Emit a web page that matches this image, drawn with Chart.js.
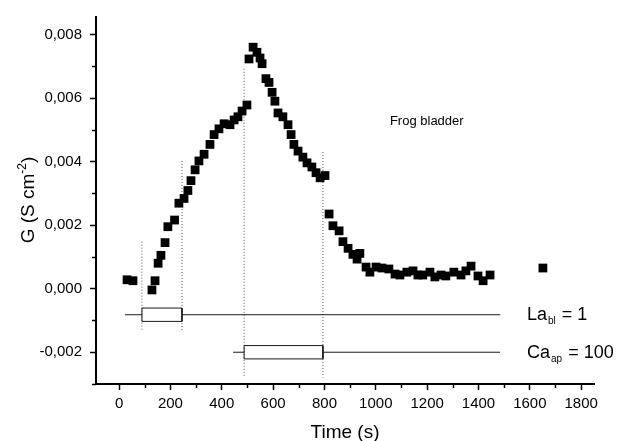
<!DOCTYPE html>
<html>
<head>
<meta charset="utf-8">
<script src="https://cdn.jsdelivr.net/npm/chart.js@4.4.1/dist/chart.umd.min.js"></script>
<style>
  html, body { margin: 0; padding: 0; background: #fff; }
  canvas { display: block; }
</style>
</head>
<body>
<canvas id="myChart" width="617" height="441"></canvas>
<script>
// Conductance data (time in s, G in S cm-2)
const timeS = [31, 54, 128, 140, 152, 163, 179, 190, 216, 233, 253, 268, 280, 296, 311, 331, 354, 370, 389, 409,
    432, 448, 463, 479, 498, 506, 522, 537, 549, 557, 572, 584, 596, 607, 619, 638, 658, 670, 681, 697,
    716, 732, 751, 767, 783, 802, 818, 833, 857, 872, 892, 911, 927, 938, 962, 977, 1001, 1024, 1051, 1075,
    1094, 1121, 1145, 1164, 1183, 1211, 1230, 1254, 1273, 1304, 1332, 1351, 1371, 1398, 1418, 1445, 1651];
const gValues = [0.00028, 0.00025, -0.00004, 0.00025, 0.00080, 0.00105, 0.00145, 0.00195, 0.00216, 0.00269,
    0.00284, 0.00309, 0.00340, 0.00374, 0.00402, 0.00423, 0.00454, 0.00485, 0.00503, 0.00519,
    0.00516, 0.00531, 0.00541, 0.00559, 0.00578, 0.00723, 0.00760, 0.00744, 0.00726, 0.00708,
    0.00661, 0.00649, 0.00618, 0.00590, 0.00553, 0.00541, 0.00516, 0.00485, 0.00454, 0.00433,
    0.00414, 0.00396, 0.00383, 0.00365, 0.00349, 0.00356, 0.00235, 0.00198, 0.00182, 0.00148,
    0.00127, 0.00108, 0.00093, 0.00111, 0.00068, 0.00052, 0.00068, 0.00065, 0.00062, 0.00046,
    0.00043, 0.00052, 0.00056, 0.00043, 0.00043, 0.00052, 0.00037, 0.00043, 0.00040, 0.00052,
    0.00043, 0.00056, 0.00071, 0.00040, 0.00025, 0.00043, 0.00065];

// Tick values
const xTicks = [0, 200, 400, 600, 800, 1000, 1200, 1400, 1600, 1800];
const xMinorTicks = [100, 300, 500, 700, 900, 1100, 1300, 1500, 1700];
const yTicks = [-0.002, 0, 0.002, 0.004, 0.006, 0.008];
const yMinorTicks = [-0.003, -0.001, 0.001, 0.003, 0.005, 0.007];

// Perfusion bars: line start, box start, box end, line end
const laTimes = [23, 89, 245, 1485];
const caTimes = [444, 487, 794, 1484];
const laLevel = -0.00082;
const caLevel = -0.002;
const boxHalf = 0.00021;

// Dotted markers
const markerTimes = [89, 245, 487, 794];
const markerTops = [0.00148, 0.00402, 0.00692, 0.0043];
const markerBottoms = [-0.00133, -0.00133, -0.0028, -0.0028];

const FONT = "'Liberation Sans', Arial, sans-serif";

function segment(t0, t1, y) {
    return [{ x: t0, y: y }, { x: t1, y: y }];
}
function box(t0, t1, y) {
    return [
        { x: t0, y: y + boxHalf }, { x: t1, y: y + boxHalf },
        { x: t1, y: y - boxHalf }, { x: t0, y: y - boxHalf },
        { x: t0, y: y + boxHalf }
    ];
}
function lineSet(data, extra) {
    return Object.assign({
        type: "line",
        data: data,
        showLine: true,
        pointRadius: 0,
        borderColor: "#1a1a1a",
        borderWidth: 1,
        fill: false,
        tension: 0,
        order: 2
    }, extra || {});
}

const datasets = [
    {
        type: "scatter",
        data: timeS.map((t, i) => ({ x: t, y: gValues[i] })),
        pointStyle: "rect",
        pointRadius: 6.2,
        backgroundColor: "#000",
        borderWidth: 0,
        order: 0
    },
    lineSet(segment(laTimes[0], laTimes[1], laLevel)),
    lineSet(segment(laTimes[2], laTimes[3], laLevel)),
    lineSet(box(laTimes[1], laTimes[2], laLevel)),
    lineSet(segment(caTimes[0], caTimes[1], caLevel)),
    lineSet(segment(caTimes[2], caTimes[3], caLevel)),
    lineSet(box(caTimes[1], caTimes[2], caLevel))
];
markerTimes.forEach((t, i) => {
    datasets.push(lineSet([{ x: t, y: markerTops[i] }, { x: t, y: markerBottoms[i] }],
        { borderColor: "#555", borderDash: [1, 2] }));
});

const fmt = (v) => {
    const s = Math.abs(v).toFixed(3).replace(".", ",");
    return (v < -1e-9 ? "-" : "") + s;
};

// minor ticks, axis title with superscript and bar labels
const extras = {
    id: "extras",
    afterDraw(chart) {
        const c = chart.ctx;
        const xs = chart.scales.x, ys = chart.scales.y;
        c.save();
        c.strokeStyle = "#000";
        c.lineWidth = 1.5;
        c.beginPath();
        xMinorTicks.forEach(v => {
            const p = Math.round(xs.getPixelForValue(v)) + 0.5;
            c.moveTo(p, xs.top);
            c.lineTo(p, xs.top + 4);
        });
        yMinorTicks.forEach(v => {
            const p = Math.round(ys.getPixelForValue(v)) + 0.5;
            c.moveTo(ys.right, p);
            c.lineTo(ys.right - 4, p);
        });
        c.stroke();

        c.fillStyle = "#000";
        // Y axis title
        c.save();
        c.translate(27, 200);
        c.rotate(-Math.PI / 2);
        const main = "G (S cm";
        const sup = "-2";
        const close = ")";
        c.font = "19px " + FONT;
        const w1 = c.measureText(main).width;
        const w3 = c.measureText(close).width;
        c.font = "12px " + FONT;
        const w2 = c.measureText(sup).width;
        const total = w1 + w2 + w3;
        let x0 = -total / 2;
        c.textBaseline = "alphabetic";
        c.font = "19px " + FONT;
        c.fillText(main, x0, 7);
        c.font = "12px " + FONT;
        c.fillText(sup, x0 + w1, -1);
        c.font = "19px " + FONT;
        c.fillText(close, x0 + w1 + w2, 7);
        c.restore();

        // Frog bladder
        c.font = "13px " + FONT;
        c.textBaseline = "middle";
        c.fillText("Frog bladder", xs.getPixelForValue(1055), ys.getPixelForValue(0.00525));

        // Bar labels
        const drawLabel = (main, sub, rest, y) => {
            let x = 527;
            c.font = "18px " + FONT;
            c.textBaseline = "alphabetic";
            c.fillText(main, x, y);
            x += c.measureText(main).width + 1;
            c.font = "10px " + FONT;
            c.fillText(sub, x, y + 4);
            x += c.measureText(sub).width + 1;
            c.font = "18px " + FONT;
            c.fillText(rest, x, y);
        };
        drawLabel("La", "bl", " = 1", ys.getPixelForValue(laLevel) + 5);
        drawLabel("Ca", "ap", " = 100", ys.getPixelForValue(caLevel) + 6);
        c.restore();
    }
};

const ctx = document.getElementById("myChart").getContext("2d");
const chart = new Chart(ctx, {
    type: "scatter",
    data: { datasets: datasets },
    options: {
        responsive: false,
        animation: false,
        devicePixelRatio: 1,
        layout: { padding: { left: 0, top: 10, right: 23, bottom: 0 } },
        plugins: {
            legend: { display: false },
            tooltip: { enabled: false }
        },
        scales: {
            x: {
                type: "linear",
                min: -90,
                max: 1850,
                afterBuildTicks: (s) => { s.ticks = xTicks.map(v => ({ value: v })); },
                afterFit: (s) => { s.height = 57; },
                border: { display: true, color: "#000", width: 2 },
                grid: { drawOnChartArea: false, tickLength: 6, tickWidth: 1.5, color: "#000" },
                ticks: {
                    color: "#000",
                    font: { family: FONT, size: 15 },
                    padding: 5,
                    maxRotation: 0,
                    callback: (v) => String(v)
                },
                title: {
                    display: true,
                    text: "Time (s)",
                    color: "#000",
                    font: { family: FONT, size: 19 },
                    padding: { top: 0, bottom: -3 }
                }
            },
            y: {
                type: "linear",
                min: -0.003,
                max: 0.00855,
                afterBuildTicks: (s) => { s.ticks = yTicks.map(v => ({ value: v })); },
                afterFit: (s) => { s.width = 96; },
                border: { display: true, color: "#000", width: 2 },
                grid: { drawOnChartArea: false, tickLength: 6, tickWidth: 1.5, color: "#000" },
                ticks: {
                    color: "#000",
                    font: { family: FONT, size: 15 },
                    padding: 8,
                    callback: (v) => fmt(v)
                }
            }
        }
    },
    plugins: [extras]
});
</script>
</body>
</html>
